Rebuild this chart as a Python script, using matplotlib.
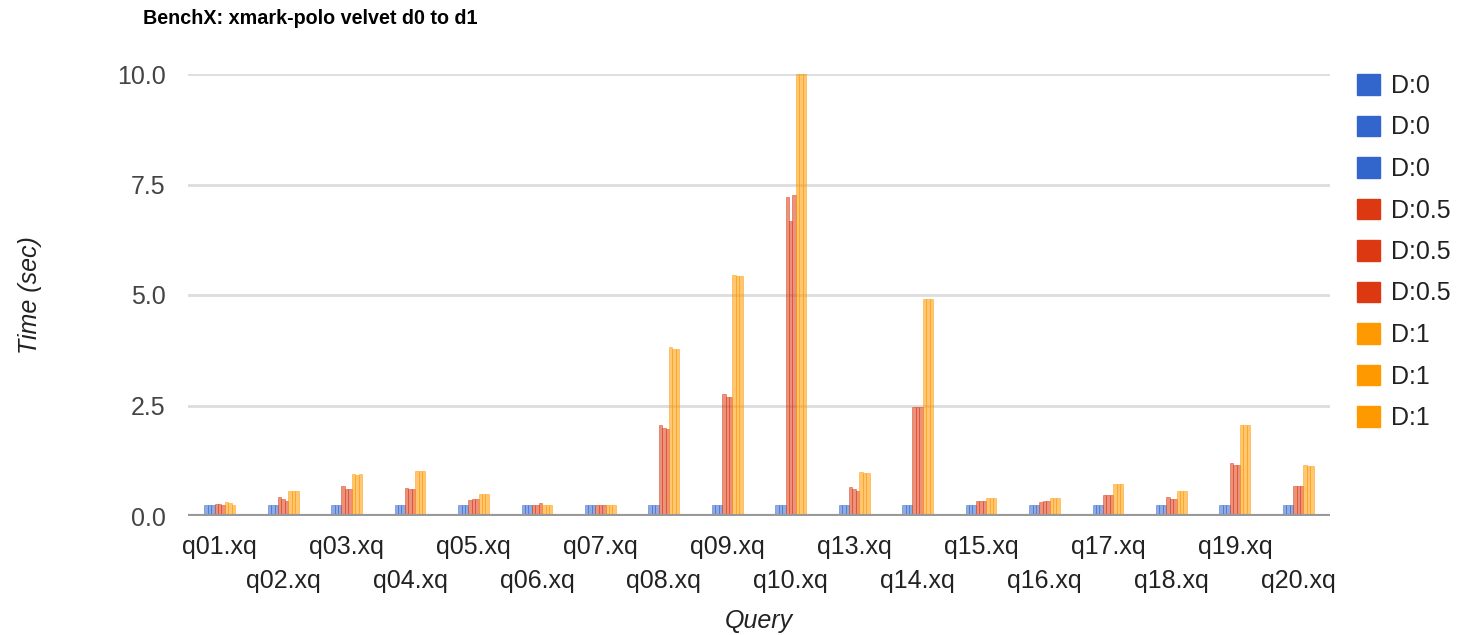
import numpy as np
import matplotlib
matplotlib.use("Agg")
import matplotlib.pyplot as plt
from matplotlib.patches import Patch

plt.rcParams['font.family'] = ['Liberation Sans', 'DejaVu Sans']

queries = ['q01.xq', 'q02.xq', 'q03.xq', 'q04.xq', 'q05.xq', 'q06.xq', 'q07.xq',
           'q08.xq', 'q09.xq', 'q10.xq', 'q13.xq', 'q14.xq', 'q15.xq', 'q16.xq',
           'q17.xq', 'q18.xq', 'q19.xq', 'q20.xq']

# three runs per setting
d0_a = [0.24, 0.24, 0.24, 0.24, 0.24, 0.24, 0.24, 0.24, 0.24, 0.24, 0.24, 0.24, 0.24, 0.24, 0.24, 0.24, 0.24, 0.24]
d0_b = [0.24, 0.24, 0.24, 0.24, 0.24, 0.24, 0.24, 0.24, 0.24, 0.24, 0.24, 0.24, 0.24, 0.24, 0.24, 0.24, 0.24, 0.24]
d0_c = [0.24, 0.24, 0.24, 0.24, 0.24, 0.24, 0.24, 0.24, 0.24, 0.24, 0.24, 0.24, 0.24, 0.24, 0.24, 0.24, 0.24, 0.24]
d05_a = [0.27, 0.42, 0.67, 0.64, 0.37, 0.25, 0.25, 2.06, 2.76, 7.22, 0.65, 2.47, 0.34, 0.32, 0.48, 0.44, 1.21, 0.68]
d05_b = [0.28, 0.38, 0.61, 0.61, 0.38, 0.25, 0.25, 1.98, 2.70, 6.68, 0.61, 2.47, 0.34, 0.33, 0.48, 0.39, 1.15, 0.68]
d05_c = [0.24, 0.35, 0.61, 0.61, 0.38, 0.29, 0.25, 1.97, 2.70, 7.26, 0.57, 2.47, 0.34, 0.33, 0.48, 0.39, 1.15, 0.68]
d1_a = [0.32, 0.56, 0.96, 1.01, 0.49, 0.25, 0.25, 3.82, 5.45, 10.0, 1.00, 4.90, 0.40, 0.40, 0.72, 0.57, 2.06, 1.15]
d1_b = [0.30, 0.56, 0.92, 1.01, 0.49, 0.25, 0.25, 3.77, 5.42, 10.0, 0.98, 4.90, 0.40, 0.40, 0.72, 0.57, 2.06, 1.12]
d1_c = [0.26, 0.56, 0.96, 1.01, 0.49, 0.25, 0.25, 3.77, 5.42, 10.0, 0.98, 4.90, 0.40, 0.40, 0.72, 0.57, 2.06, 1.12]

series = [d0_a, d0_b, d0_c, d05_a, d05_b, d05_c, d1_a, d1_b, d1_c]
labels = ['D:0', 'D:0', 'D:0', 'D:0.5', 'D:0.5', 'D:0.5', 'D:1', 'D:1', 'D:1']
colors = ['#3366cc'] * 3 + ['#dc3912'] * 3 + ['#ff9900'] * 3

fig = plt.figure(figsize=(14.58, 6.35), dpi=100)
ax = fig.add_axes([188 / 1458, 1 - 516 / 635, (1330 - 188) / 1458, (516 - 74) / 635])

x = np.arange(len(queries))
w = 0.054
for i, (vals, c) in enumerate(zip(series, colors)):
    off = (i - 4) * w
    ax.bar(x + off, vals, width=w, color=c, alpha=0.55, edgecolor=c,
           linewidth=0.6, zorder=3)

ax.set_xlim(-0.5, len(queries) - 0.5)
ax.set_ylim(0, 10)
ax.set_yticks([0, 2.5, 5, 7.5, 10])
ax.set_yticklabels(['0.0', '2.5', '5.0', '7.5', '10.0'])
ax.yaxis.grid(True, color='#dddddd', linewidth=2, zorder=0)
ax.axhline(0, color='#999999', linewidth=3, zorder=4)
for s in ax.spines.values():
    s.set_visible(False)

# alternate labels over two rows
ax.set_xticks(x[::2])
ax.set_xticklabels(queries[::2])
ax.set_xticks(x[1::2], minor=True)
ax.set_xticklabels(queries[1::2], minor=True)
ax.tick_params(axis='x', which='major', length=0, pad=14, labelsize=18, labelcolor='#222222')
ax.tick_params(axis='x', which='minor', length=0, pad=38, labelsize=18, labelcolor='#222222')
ax.tick_params(axis='y', length=0, pad=16, labelsize=18, labelcolor='#444444')

ax.set_xlabel('Query', fontsize=18, style='italic', color='#222222', labelpad=12)
ax.set_ylabel('Time (sec)', fontsize=18, style='italic', color='#222222', labelpad=54)

fig.text(143 / 1458, 1 - 19 / 635, 'BenchX: xmark-polo velvet d0 to d1', fontsize=14.2,
         fontweight='bold', va='center', ha='left')

handles = [Patch(facecolor=c, edgecolor=c) for c in colors]
ax.legend(handles, labels, loc='upper left', bbox_to_anchor=(1357 / 1458, 1 - 74 / 635),
          bbox_transform=fig.transFigure, frameon=False, fontsize=18,
          handlelength=0.9, handleheight=0.9, handletextpad=0.45,
          labelspacing=0.7, borderpad=0, borderaxespad=0, labelcolor='#222222')

fig.savefig('out.png', dpi=100, facecolor='white')
